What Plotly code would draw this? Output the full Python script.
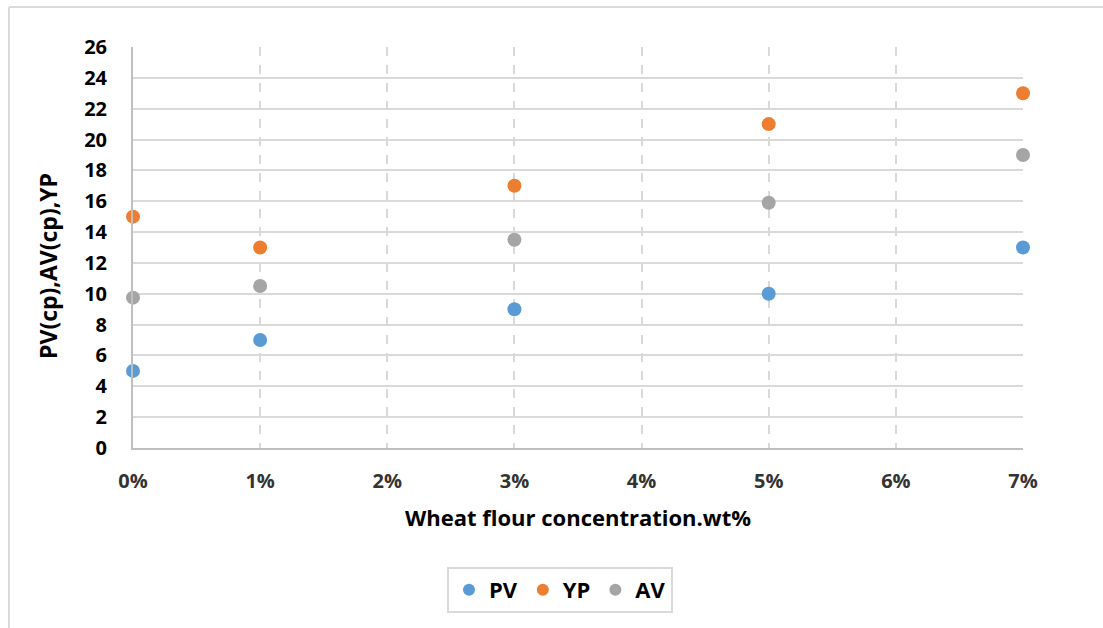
import plotly.graph_objects as go

x_conc = [0.00, 0.01, 0.03, 0.05, 0.07]
pv = [5, 7, 9, 10, 13]
yp = [15, 13, 17, 21, 23]
av = [9.75, 10.5, 13.5, 15.9, 19]

series_names = ["PV", "YP", "AV"]
series_colors = ["#5B9BD5", "#ED7D31", "#A5A5A5"]

x_ticks = [0, 0.01, 0.02, 0.03, 0.04, 0.05, 0.06, 0.07]
y_ticks = list(range(0, 27, 2))

FONT = "Open Sans"

fig = go.Figure()
for name, vals, col in zip(series_names, [pv, yp, av], series_colors):
    fig.add_trace(go.Scatter(x=x_conc, y=vals, mode="markers", name=name,
                             cliponaxis=False,
                             marker=dict(color=col, size=14, line=dict(width=0))))

W, H = 1103, 628
L, R, T, B = 133, 80, 47, 180
pw = W - L - R
ph = H - T - B

fig.update_layout(
    width=W, height=H,
    margin=dict(l=L, r=R, t=T, b=B),
    paper_bgcolor="white", plot_bgcolor="white",
    font=dict(family=FONT, size=16, color="#000000"),
    showlegend=True,
    legend=dict(orientation="h", x=(560 - L) / pw, xanchor="center",
                y=-(567 - (T + ph)) / ph, yanchor="top",
                bordercolor="#d9d9d9", borderwidth=2,
                font=dict(family=FONT, size=22, color="#000000", weight="bold"),
                itemsizing="constant", itemwidth=30, tracegroupgap=0),
    xaxis=dict(range=[0, 0.07], tickvals=x_ticks, tickformat=".0%",
               showgrid=True, gridcolor="#d9d9d9", griddash="dash", gridwidth=2,
               showline=True, linecolor="#bfbfbf", linewidth=2,
               zeroline=False, ticks="", ticklabelstandoff=14,
               tickfont=dict(family=FONT, size=20, color="#333333", weight="bold"),
               title=dict(text="Wheat flour concentration.wt%", standoff=18,
                          font=dict(family=FONT, size=22, color="#000000", weight="bold"))),
    yaxis=dict(range=[0, 26], tickvals=y_ticks,
               showgrid=True, gridcolor="#d9d9d9", gridwidth=1.5,
               showline=True, linecolor="#bfbfbf", linewidth=2,
               zeroline=False, ticks="", ticklabelstandoff=20,
               tickfont=dict(family=FONT, size=20, color="#000000", weight="bold")),
)

# y axis title placed as in the reference (slightly below plot centre)
fig.add_annotation(text="PV(cp),AV(cp),YP", textangle=-90, showarrow=False,
                   xref="paper", yref="paper",
                   x=(48 - L) / pw, y=(T + ph - 266) / ph,
                   xanchor="center", yanchor="middle",
                   font=dict(family=FONT, size=23, color="#000000", weight="bold"))

# outer chart frame (left & top edges visible)
fx = (9 - L) / pw
fy_top = (T + ph - 7) / ph
fy_bot = (T + ph - 628) / ph
fx_right = (1103 - L) / pw
fig.add_shape(type="line", xref="paper", yref="paper", x0=fx, x1=fx, y0=fy_bot, y1=fy_top,
              line=dict(color="#d9d9d9", width=2), layer="below")
fig.add_shape(type="line", xref="paper", yref="paper", x0=fx, x1=fx_right, y0=fy_top, y1=fy_top,
              line=dict(color="#d9d9d9", width=2), layer="below")

fig.write_html("out.html")
